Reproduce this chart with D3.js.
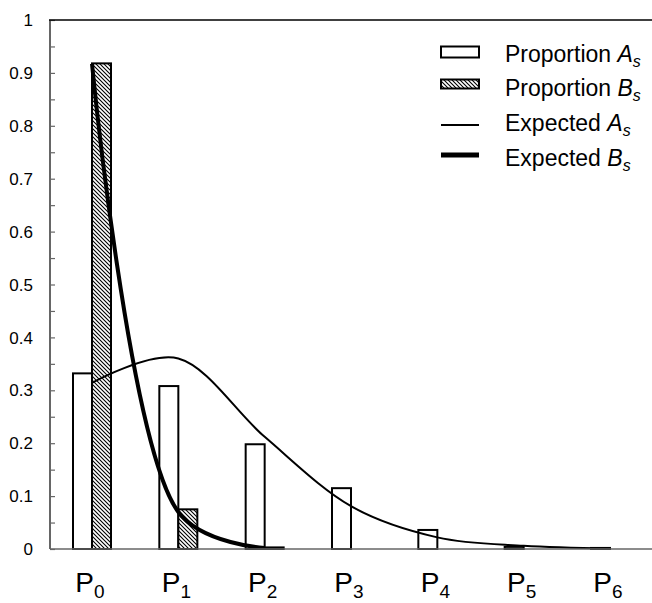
<!DOCTYPE html>
<html>
<head>
<meta charset="utf-8">
<script src="https://cdn.jsdelivr.net/npm/d3@7/dist/d3.min.js"></script>
<style>
  html, body { margin: 0; padding: 0; background: #fff; }
  svg { display: block; }
  text { font-family: "Liberation Sans Narrow", "Liberation Sans", Arial, sans-serif; }
  .leg text { font-family: "Liberation Sans", Arial, sans-serif; }
</style>
</head>
<body>
<script>
// ---- data ----
const categories = ["0", "1", "2", "3", "4", "5", "6"];
const proportionA = [0.332, 0.308, 0.198, 0.115, 0.036, 0.004, 0.002];
const proportionB = [0.918, 0.075, 0.003, 0, 0, 0, 0];
const expectedA = [0.314, 0.360, 0.212, 0.081, 0.022, 0.006, 0.001];
const expectedB = [0.917, 0.070, 0.002, null, null, null, null];
const yTickValues = [0, 0.1, 0.2, 0.3, 0.4, 0.5, 0.6, 0.7, 0.8, 0.9, 1];
const yTickLabels = ["0", "0.1", "0.2", "0.3", "0.4", "0.5", "0.6", "0.7", "0.8", "0.9", "1"];
const yMinorTicks = [0.05, 0.15, 0.25, 0.35, 0.45, 0.55, 0.65, 0.75, 0.85, 0.95];
const legendItems = [
  { label: "Proportion ", sym: "A", kind: "barA" },
  { label: "Proportion ", sym: "B", kind: "barB" },
  { label: "Expected ", sym: "A", kind: "lineA" },
  { label: "Expected ", sym: "B", kind: "lineB" }
];

const W = 652, H = 603;
const svg = d3.select("body").append("svg").attr("width", W).attr("height", H);

const defs = svg.append("defs");
const pat = defs.append("pattern")
  .attr("id", "hatch").attr("patternUnits", "userSpaceOnUse")
  .attr("width", 4).attr("height", 4);
pat.append("rect").attr("width", 4).attr("height", 4).attr("fill", "#fff");
pat.append("path").attr("d", "M-1,-1 L5,5 M-1,3 L1,5 M3,-1 L5,1")
  .attr("stroke", "#000").attr("stroke-width", 1.1);

const x = d3.scalePoint().domain(categories).range([92, 610]);
const y = d3.scaleLinear().domain([0, 1]).range([549, 20]);
const barW = 19;

// bars A (left of centre)
svg.append("g").selectAll("rect")
  .data(categories.map((c, i) => ({ c, v: proportionA[i] })).filter(d => d.v > 0))
  .join("rect")
  .attr("x", d => x(d.c) - barW)
  .attr("y", d => y(d.v))
  .attr("width", barW)
  .attr("height", d => y(0) - y(d.v))
  .attr("fill", "#fff").attr("stroke", "#000").attr("stroke-width", 2);

// bars B (right of centre)
svg.append("g").selectAll("rect")
  .data(categories.map((c, i) => ({ c, v: proportionB[i] })).filter(d => d.v > 0))
  .join("rect")
  .attr("x", d => x(d.c))
  .attr("y", d => y(d.v))
  .attr("width", barW)
  .attr("height", d => y(0) - y(d.v))
  .attr("fill", "url(#hatch)").attr("stroke", "#000").attr("stroke-width", 2);

// lines
const lineA = d3.line()
  .defined(d => d.v !== null)
  .x(d => x(d.c)).y(d => y(d.v))
  .curve(d3.curveCatmullRom.alpha(0.25));
const lineB = d3.line()
  .defined(d => d.v !== null)
  .x(d => x(d.c)).y(d => y(d.v))
  .curve(d3.curveCatmullRom.alpha(0.45));

svg.append("path")
  .datum(categories.map((c, i) => ({ c, v: expectedA[i] })))
  .attr("d", lineA)
  .attr("fill", "none").attr("stroke", "#000").attr("stroke-width", 2);

svg.append("path")
  .datum(categories.map((c, i) => ({ c, v: expectedB[i] })))
  .attr("d", lineB)
  .attr("fill", "none").attr("stroke", "#000").attr("stroke-width", 4);

// y axis ticks
const yAxis = d3.axisRight(y).tickValues(yTickValues).tickSize(5).tickFormat("");
const gy = svg.append("g").attr("transform", "translate(50,0)").call(yAxis);
gy.select(".domain").remove();
gy.selectAll(".tick line").attr("stroke", "#666").attr("stroke-width", 1.2);
const yMinor = d3.axisRight(y).tickValues(yMinorTicks).tickSize(5).tickFormat("");
const gym = svg.append("g").attr("transform", "translate(50,0)").call(yMinor);
gym.select(".domain").remove();
gym.selectAll(".tick line").attr("stroke", "#666").attr("stroke-width", 1.2);

svg.append("g").selectAll("text")
  .data(yTickValues)
  .join("text")
  .attr("x", 33).attr("y", d => y(d))
  .attr("dy", "0.36em")
  .attr("text-anchor", "end")
  .attr("font-size", 17)
  .attr("fill", "#000")
  .text((d, i) => yTickLabels[i]);

// axis lines
svg.append("line").attr("x1", 50).attr("x2", 50).attr("y1", y(1)).attr("y2", y(0))
  .attr("stroke", "#666").attr("stroke-width", 2);
svg.append("line").attr("x1", 50).attr("x2", W).attr("y1", y(0)).attr("y2", y(0))
  .attr("stroke", "#666").attr("stroke-width", 1.5);
svg.append("line").attr("x1", 49).attr("x2", W).attr("y1", y(1)).attr("y2", y(1))
  .attr("stroke", "#000").attr("stroke-width", 1.5);

// x labels
const xl = svg.append("g").selectAll("text")
  .data(categories)
  .join("text")
  .attr("x", d => x(d) - 2).attr("y", 592)
  .attr("text-anchor", "middle")
  .attr("font-size", 28)
  .attr("fill", "#000");
xl.append("tspan").text("P");
xl.append("tspan").attr("font-size", 19).attr("dy", 6).text(d => d);

// legend
const lg = svg.append("g").attr("class", "leg");
const symX = 441, symW = 38, txtX = 505;
const rowText = [62, 96, 131, 166];
const rowSym = [52, 84, 125, 155];
legendItems.forEach((it, i) => {
  const cy = rowSym[i];
  if (it.kind === "barA") {
    lg.append("rect").attr("x", symX).attr("y", cy - 5.5).attr("width", symW).attr("height", 11)
      .attr("fill", "#fff").attr("stroke", "#000").attr("stroke-width", 2);
  } else if (it.kind === "barB") {
    lg.append("rect").attr("x", symX).attr("y", cy - 4.5).attr("width", symW).attr("height", 9)
      .attr("fill", "url(#hatch)").attr("stroke", "#000").attr("stroke-width", 2);
  } else {
    lg.append("line").attr("x1", symX).attr("x2", symX + symW).attr("y1", cy).attr("y2", cy)
      .attr("stroke", "#000").attr("stroke-width", it.kind === "lineA" ? 2 : 5);
  }
  const t = lg.append("text").attr("x", txtX).attr("y", rowText[i])
    .attr("font-size", 23).attr("fill", "#000");
  t.append("tspan").text(it.label);
  t.append("tspan").attr("font-style", "italic").text(it.sym);
  t.append("tspan").attr("font-style", "italic").attr("font-size", 16).attr("dy", 5).text("s");
});
</script>
</body>
</html>
